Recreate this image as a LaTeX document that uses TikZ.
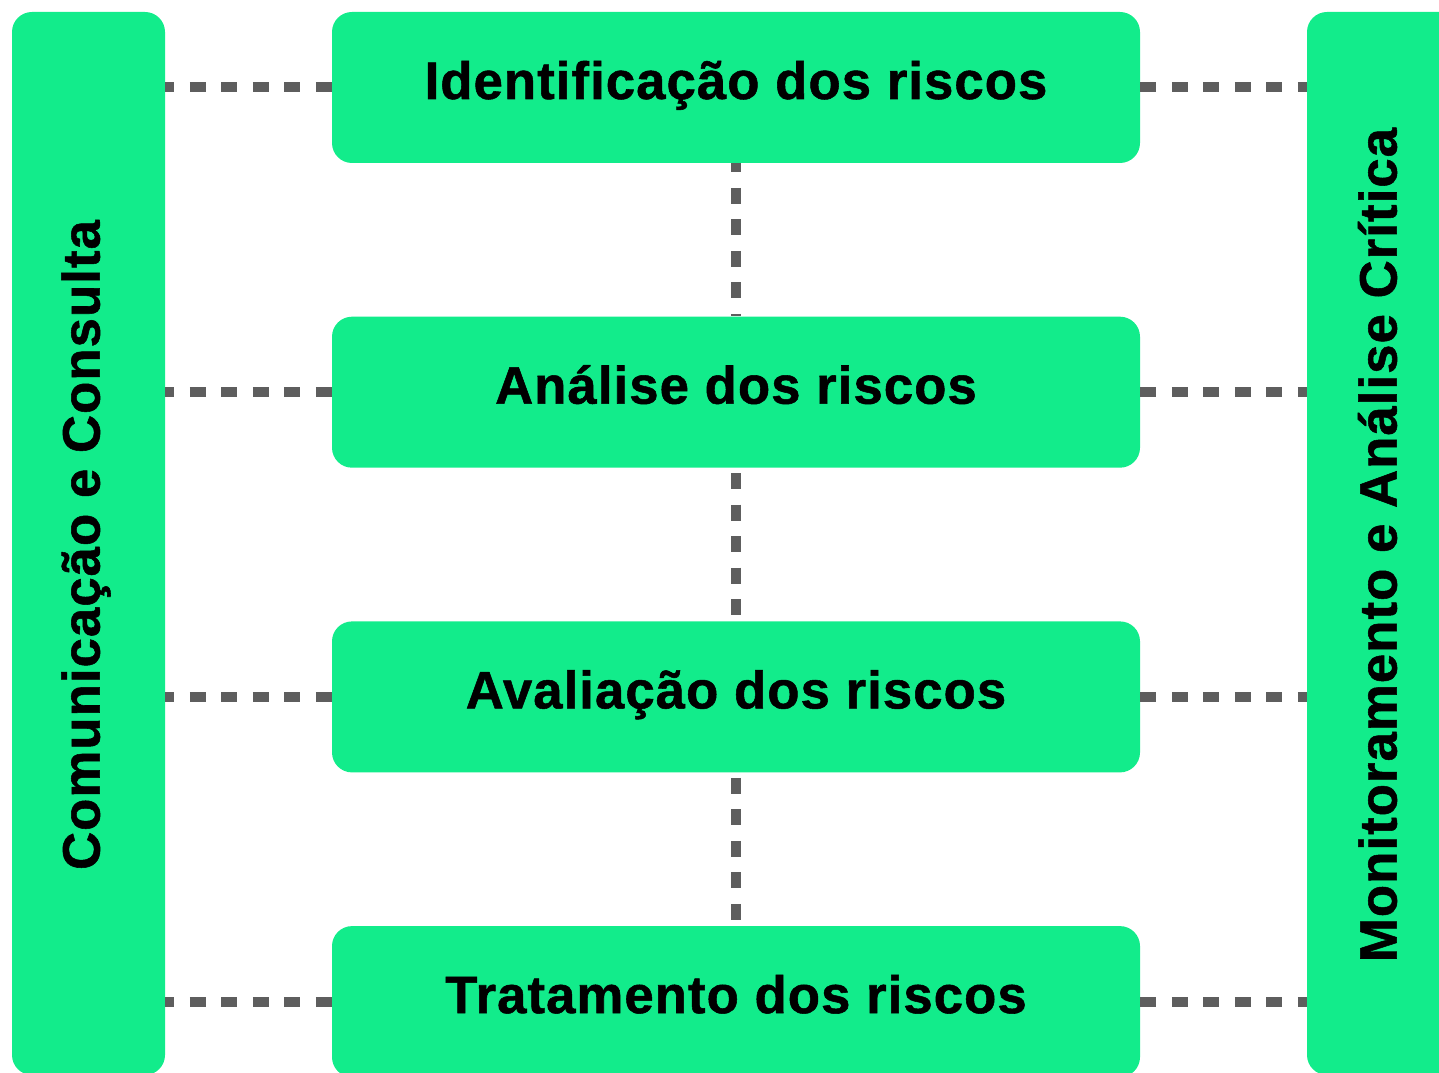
\documentclass[tikz,border=0pt]{standalone}
\usepackage{fontspec}
\setmainfont{Liberation Sans}[BoldFeatures={FakeBold=1,LetterSpace=2}]
\usetikzlibrary{positioning}
\definecolor{riskgreen}{RGB}{18, 236, 139}
\definecolor{linkgray}{RGB}{94, 94, 94}

\begin{document}
\begin{tikzpicture}[
    node distance=3.06cm,
    stage/.style={rectangle, rounded corners=0.4cm, minimum width=16.16cm, minimum height=3.02cm, text height=0.8cm, text depth=0.34cm, text centered, fill=riskgreen, font=\fontsize{30}{34}\selectfont\bfseries},
    sidebar/.style={rectangle, rounded corners=0.4cm, minimum width=3.06cm, minimum height=21.26cm, fill=riskgreen},
    sidelabel/.style={rotate=90, font=\fontsize{30}{34}\selectfont\bfseries},
    link/.style={line width=0.2cm, draw=linkgray, dash pattern=on 0.32cm off 0.31cm}
]
\clip (0,0) rectangle (28.78,21.44);
\useasboundingbox (0,0) rectangle (28.78,21.44);

% Side bars
\node (comunicacao) [sidebar] at (1.77,10.57) {};
\node (monitoramento) [sidebar] at (27.67,10.57) {};
\node (comunicacao_txt) [sidelabel] at (1.72,10.54) {Comunicação e Consulta};
\node (monitoramento_txt) [sidelabel] at (27.55,10.54) {Monitoramento e Análise Crítica};

% Stages
\node (identificacao) [stage] at (14.72,19.69) {Identificação dos riscos};
\node (analise) [stage, below=of identificacao] {Análise dos riscos};
\node (avaliacao) [stage, below=of analise] {Avaliação dos riscos};
\node (tratamento) [stage, below=of avaliacao] {Tratamento dos riscos};

% Vertical links
\draw [link, dash phase=0.14cm] (identificacao.south) -- (analise.north);
\draw [link, dash phase=-0.1cm] (analise.south) -- (avaliacao.north);
\draw [link, dash phase=-0.1cm] (avaliacao.south) -- (tratamento.north);

% Horizontal links
\foreach \s in {identificacao, analise, avaliacao, tratamento} {
    \draw [link, dash phase=0.14cm] (comunicacao.east |- \s.west) -- (\s.west);
    \draw [link] (\s.east) -- (monitoramento.west |- \s.east);
}

\end{tikzpicture}
\end{document}
